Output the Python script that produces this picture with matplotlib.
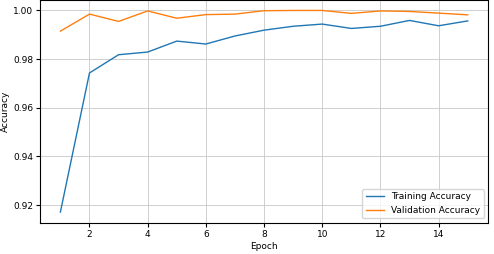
import numpy as np
import matplotlib
matplotlib.use("Agg")
import matplotlib.pyplot as plt

epochs = list(range(1, 16))
train_acc = [0.9171, 0.9743, 0.9818, 0.9829, 0.9874, 0.9862, 0.9895, 0.9919,
             0.9935, 0.9944, 0.9926, 0.9935, 0.9959, 0.9937, 0.9957]
val_acc = [0.9915, 0.9985, 0.9955, 0.9998, 0.9968, 0.9983, 0.9985, 0.9999,
           1.0000, 1.0000, 0.9988, 0.9998, 0.9996, 0.9989, 0.9982]

plt.rcParams['font.size'] = 6.5

fig = plt.figure(figsize=(4.94, 2.54), dpi=100)
ax = fig.add_axes([0.081, 0.122, 0.907, 0.878])
ax.plot(epochs, train_acc, label="Training Accuracy", linewidth=1)
ax.plot(epochs, val_acc, label="Validation Accuracy", linewidth=1)
ax.set_xticks(np.arange(2, 16, 2))
ax.set_yticks([0.92, 0.94, 0.96, 0.98, 1.00])
ax.set_ylim(0.9126, 1.0043)
ax.set_xlim(0.3, 15.7)
ax.tick_params(length=3, pad=2)
ax.set_xlabel("Epoch", labelpad=2)
ax.set_ylabel("Accuracy", labelpad=2)
ax.grid(True, linewidth=0.6, color="#c8c8c8")
ax.legend(loc="lower right")
fig.savefig("out.png", dpi=100)
